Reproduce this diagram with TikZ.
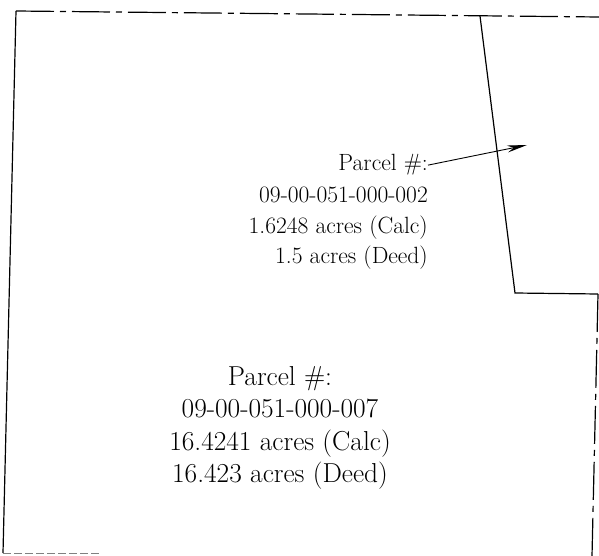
\documentclass[tikz,border=0pt]{standalone}
\usetikzlibrary{arrows.meta}
\tikzset{
  lotline/.style={line width=1.2pt},
  lotdash/.style={line width=1.2pt, dash pattern=on 38pt off 6pt on 6pt off 6pt},
  smalllabel/.style={font=\fontsize{23.5}{28}\selectfont, inner sep=0pt, anchor=base east},
  biglabel/.style={font=\fontsize{27.4}{32}\selectfont, inner sep=0pt, anchor=base},
}
\begin{document}
\begin{tikzpicture}[x=1pt,y=-1pt]
	\useasboundingbox (0,0) rectangle (599,556);
	% lot corners
	\coordinate (tl) at (16,11);
	\coordinate (tr) at (599,17);
	\coordinate (bl) at (3,553);
	\coordinate (bb) at (100,553);
	\coordinate (dtop) at (480,16);
	\coordinate (dbot) at (515,293);
	\coordinate (rtop) at (598,294);
	\coordinate (rbot) at (592,556);
	\draw[lotdash] (tl) -- (tr);
	\draw[lotline] (tl) -- (bl);
	\draw[line width=0.8pt, gray, dash pattern=on 8pt off 3pt] (bl) -- (bb);
	\draw[lotline] (dtop) -- (dbot) -- (rtop);
	\draw[lotdash] (rtop) -- (rbot);
	%parcel 002
	\node[smalllabel] (pa) at (428,171) {Parcel \#:};
	\node[smalllabel] (pb) at (428,202) {09-00-051-000-002};
	\node[smalllabel] (pc) at (428,233) {1.6248 acres (Calc)};
	\node[smalllabel] (pd) at (428,263) {1.5 acres (Deed)};
	\coordinate (tip) at (527,145);
	\draw[line width=0.9pt, -{Stealth[length=20pt,width=7pt]}] (pa.east) -- (tip);
	%parcel 007
	\node[biglabel] (qa) at (280,385) {Parcel \#:};
	\node[biglabel] (qb) at (280,417) {09-00-051-000-007};
	\node[biglabel] (qc) at (280,450) {16.4241 acres (Calc)};
	\node[biglabel] (qd) at (280,482) {16.423 acres (Deed)};
\end{tikzpicture}
\end{document}
